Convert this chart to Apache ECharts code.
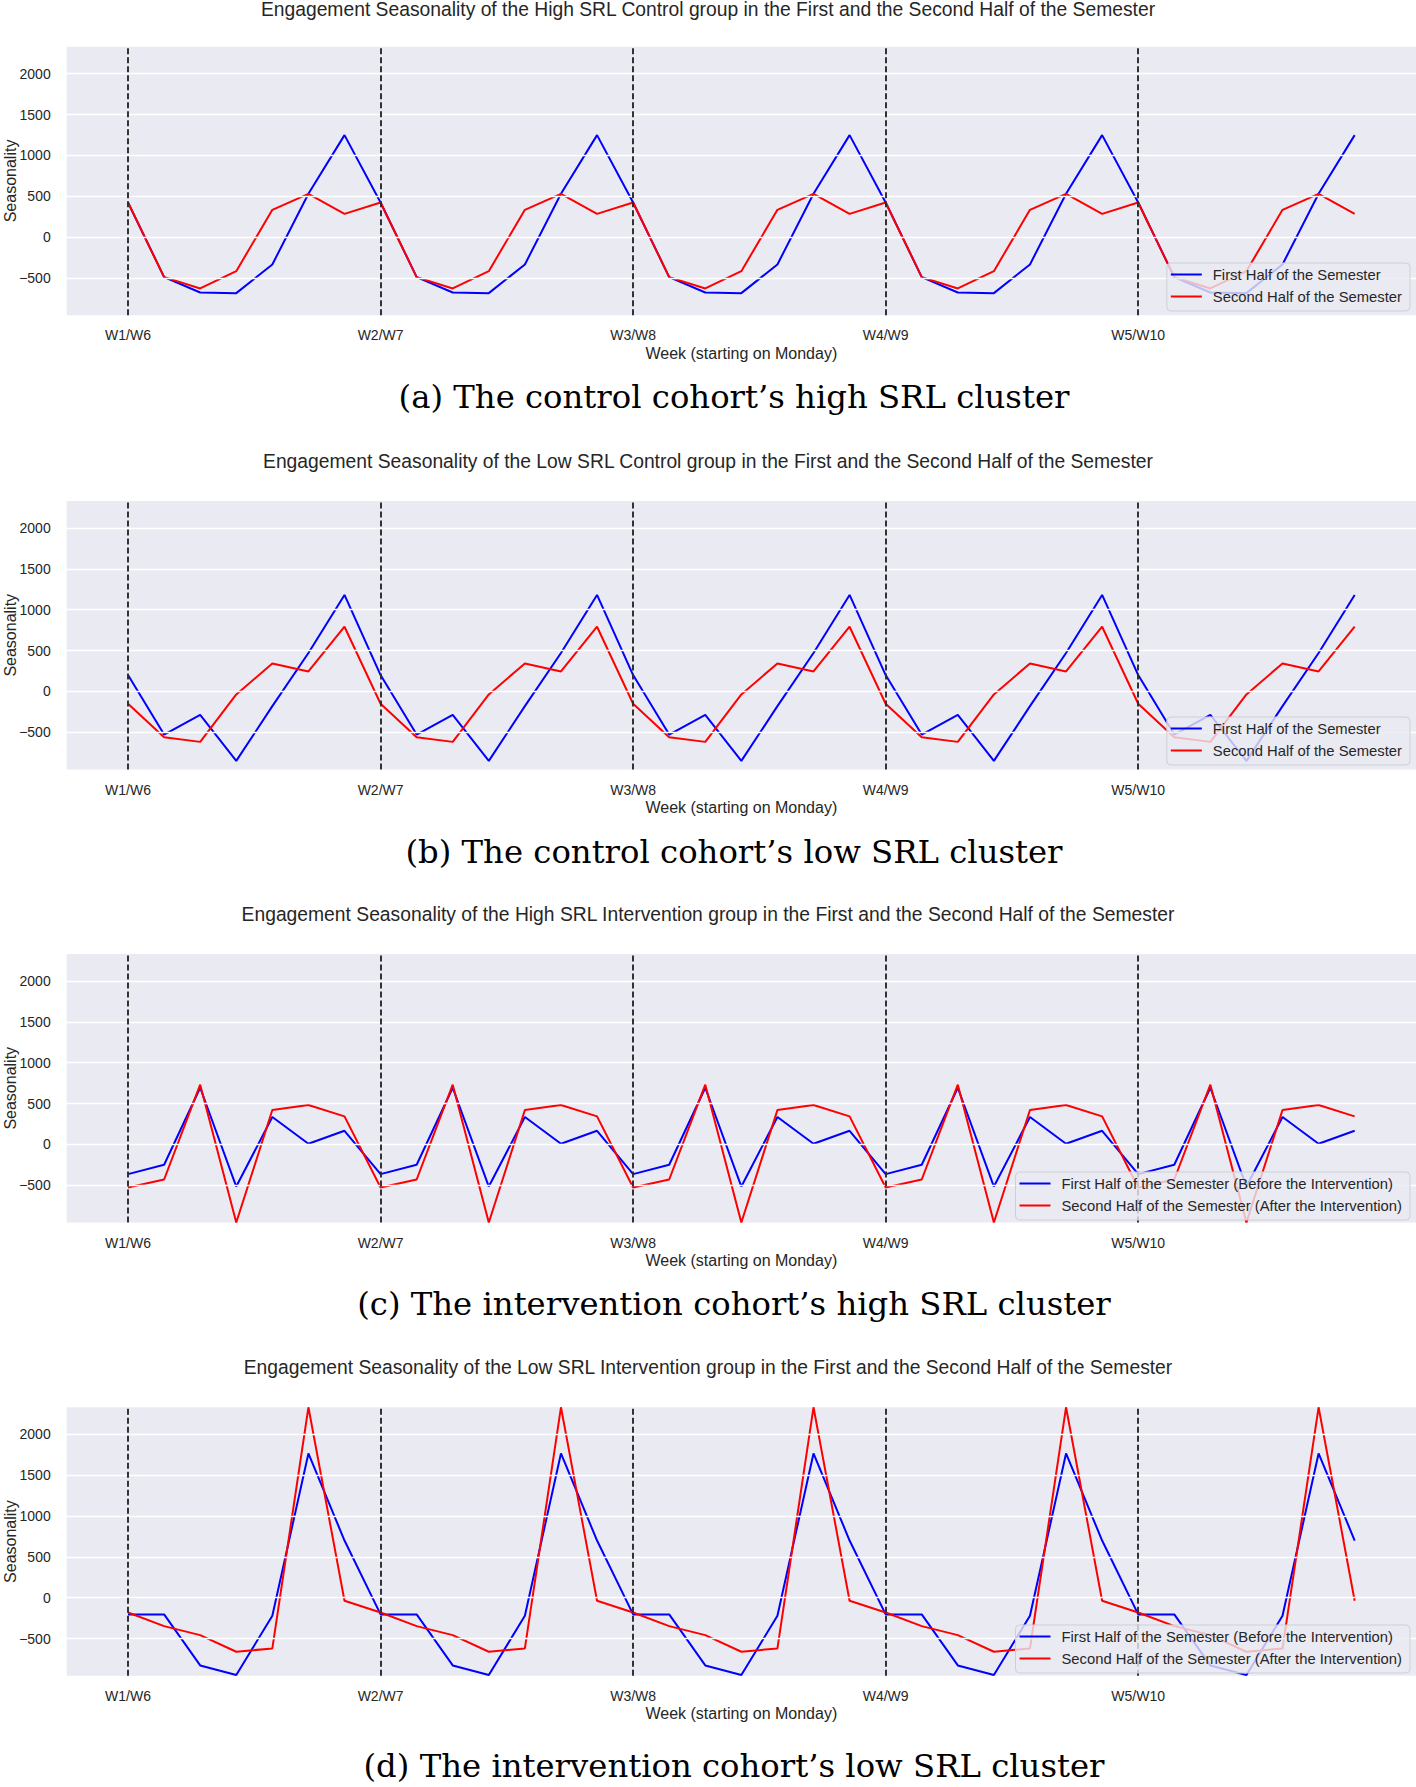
<!DOCTYPE html>
<html><head><meta charset="utf-8">
<script src="https://cdn.jsdelivr.net/npm/echarts@6/dist/echarts.min.js"></script>
<style>html,body{margin:0;padding:0;background:#fff}#c{width:1416px;height:1787px}</style>
</head><body><div id="c"></div>
<script>
// ---- data ----
const days = [0,1,2,3,4,5,6,7,8,9,10,11,12,13,14,15,16,17,18,19,20,21,22,23,24,25,26,27,28,29,30,31,32,33,34];
const weekStartDays = [0,7,14,21,28];
const weekLabels = ['W1/W6','W2/W7','W3/W8','W4/W9','W5/W10'];
const yTicks = [-500,0,500,1000,1500,2000];
const yMin = -955, yMax = 2330;

const panelTitles = [
  'Engagement Seasonality of the High SRL Control group in the First and the Second Half of the Semester',
  'Engagement Seasonality of the Low SRL Control group in the First and the Second Half of the Semester',
  'Engagement Seasonality of the High SRL Intervention group in the First and the Second Half of the Semester',
  'Engagement Seasonality of the Low SRL Intervention group in the First and the Second Half of the Semester'
];
const captions = [
  '(a) The control cohort\u2019s high SRL cluster',
  '(b) The control cohort\u2019s low SRL cluster',
  '(c) The intervention cohort\u2019s high SRL cluster',
  '(d) The intervention cohort\u2019s low SRL cluster'
];
const controlNames = ['First Half of the Semester','Second Half of the Semester'];
const interventionNames = ['First Half of the Semester (Before the Intervention)','Second Half of the Semester (After the Intervention)'];
const xAxisName = 'Week (starting on Monday)';
const yAxisName = 'Seasonality';

const highControlFirst = [424,-489,-677,-685,-334,530,1248, 424,-489,-677,-685,-334,530,1248, 424,-489,-677,-685,-334,530,1248, 424,-489,-677,-685,-334,530,1248, 424,-489,-677,-685,-334,530,1248];
const highControlSecond = [424,-489,-628,-416,334,530,285, 424,-489,-628,-416,334,530,285, 424,-489,-628,-416,334,530,285, 424,-489,-628,-416,334,530,285, 424,-489,-628,-416,334,530,285];
const lowControlFirst = [200,-527,-286,-850,-180,470,1181, 200,-527,-286,-850,-180,470,1181, 200,-527,-286,-850,-180,470,1181, 200,-527,-286,-850,-180,470,1181, 200,-527,-286,-850,-180,470,1181];
const lowControlSecond = [-151,-560,-617,-37,343,245,792, -151,-560,-617,-37,343,245,792, -151,-560,-617,-37,343,245,792, -151,-560,-617,-37,343,245,792, -151,-560,-617,-37,343,245,792];
const highInterFirst = [-363,-249,694,-515,335,8,167, -363,-249,694,-515,335,8,167, -363,-249,694,-515,335,8,167, -363,-249,694,-515,335,8,167, -363,-249,694,-515,335,8,167];
const highInterSecond = [-527,-429,731,-955,421,482,343, -527,-429,731,-955,421,482,343, -527,-429,731,-955,421,482,343, -527,-429,731,-955,421,482,343, -527,-429,731,-955,421,482,343];
const lowInterFirst = [-204,-204,-828,-946,-220,1765,700, -204,-204,-828,-946,-220,1765,700, -204,-204,-828,-946,-220,1765,700, -204,-204,-828,-946,-220,1765,700, -204,-204,-828,-946,-220,1765,700];
const lowInterSecond = [-180,-347,-457,-661,-620,2330,-37, -180,-347,-457,-661,-620,2330,-37, -180,-347,-457,-661,-620,2330,-37, -180,-347,-457,-661,-620,2330,-37, -180,-347,-457,-661,-620,2330,-37];

// ---- build ----
const panels = [
  {first: highControlFirst, second: highControlSecond, names: controlNames},
  {first: lowControlFirst, second: lowControlSecond, names: controlNames},
  {first: highInterFirst, second: highInterSecond, names: interventionNames},
  {first: lowInterFirst, second: lowInterSecond, names: interventionNames}
];
const SANS = '"Liberation Sans", Arial, sans-serif';
const SERIF = '"DejaVu Serif", serif';
const TXT = '#262626';
const tops = [46.7, 501, 954, 1407.3];
const H = 268.5;
const titleCenters = [9.5, 461.5, 914, 1367.5];
const captionCenters = [397, 852, 1304, 1766];
const legendTops = [263, 717, 1172, 1625];

const grid = [], xAxis = [], yAxis = [], series = [], title = [], legend = [], graphic = [];
panels.forEach((p, i) => {
  grid.push({left: 66.7, right: 0, top: tops[i], height: H, show: true, backgroundColor: '#EAEAF2', borderWidth: 0});
  xAxis.push({
    gridIndex: i, type: 'value', min: -1.7, max: 35.7,
    axisLine: {show: false}, axisTick: {show: false}, splitLine: {show: false},
    axisLabel: {customValues: weekStartDays, formatter: v => weekLabels[weekStartDays.indexOf(v)] || '',
      margin: 13, fontSize: 14, color: TXT, fontFamily: SANS},
    name: xAxisName, nameLocation: 'middle', nameGap: 30,
    nameTextStyle: {fontSize: 16, color: TXT, fontFamily: SANS}
  });
  yAxis.push({
    gridIndex: i, type: 'value', min: yMin, max: yMax,
    axisLine: {show: false}, axisTick: {show: false}, splitLine: {show: false},
    axisLabel: {customValues: yTicks, formatter: v => v < 0 ? '\u2212' + Math.abs(v) : String(v),
      margin: 16, fontSize: 14, color: TXT, fontFamily: SANS}
  });
  series.push({
    type: 'line', xAxisIndex: i, yAxisIndex: i, data: [], z: 1, silent: true,
    markLine: {silent: true, symbol: ['none','none'], label: {show: false}, animation: false,
      lineStyle: {color: '#ffffff', width: 1.3, type: 'solid'},
      emphasis: {disabled: true},
      data: yTicks.map(v => ({yAxis: v}))}
  });
  series.push({
    name: p.names[0], type: 'line', xAxisIndex: i, yAxisIndex: i, z: 3,
    data: p.first.map((v, k) => [days[k], v]), symbol: 'none',
    lineStyle: {color: '#0000ff', width: 2}, itemStyle: {color: '#0000ff'}
  });
  series.push({
    name: p.names[1], type: 'line', xAxisIndex: i, yAxisIndex: i, z: 3,
    data: p.second.map((v, k) => [days[k], v]), symbol: 'none',
    lineStyle: {color: '#ff0000', width: 2}, itemStyle: {color: '#ff0000'}
  });
  series.push({
    type: 'line', xAxisIndex: i, yAxisIndex: i, data: [], z: 4, silent: true,
    markLine: {silent: true, symbol: ['none','none'], label: {show: false}, animation: false,
      lineStyle: {color: '#2a2a2a', width: 1.9, type: [6, 3]},
      emphasis: {disabled: true},
      data: weekStartDays.map(v => ({xAxis: v}))}
  });
  title.push({
    text: panelTitles[i], left: 708, top: titleCenters[i] - 9.5, textAlign: 'center', padding: 0,
    textStyle: {fontSize: 19.3, fontWeight: 'normal', color: TXT, fontFamily: SANS, lineHeight: 19}
  });
  title.push({
    text: captions[i], left: 734, top: captionCenters[i] - 16, textAlign: 'center', padding: 0,
    textStyle: {fontSize: 32.3, fontWeight: 'normal', color: '#000', fontFamily: SERIF, lineHeight: 32}
  });
  legend.push({
    orient: 'vertical', right: 6, top: legendTops[i], data: p.names,
    icon: 'rect', itemWidth: 31, itemHeight: 2, itemGap: 7, padding: [4, 8, 7, 4],
    backgroundColor: 'rgba(234,234,242,0.8)', borderColor: '#cfcfd6', borderWidth: 1, borderRadius: 4,
    selectedMode: false, z: 10,
    textStyle: {fontSize: 14.8, color: TXT, fontFamily: SANS, lineHeight: 14, padding: [0, 0, 0, 6]}
  });
  graphic.push({
    type: 'text', x: 10, y: tops[i] + H / 2, rotation: Math.PI / 2, silent: true,
    style: {text: yAxisName, fill: TXT, font: '16px "Liberation Sans", Arial, sans-serif',
      align: 'center', verticalAlign: 'middle', textAlign: 'center', textVerticalAlign: 'middle'}
  });
});

const chart = echarts.init(document.getElementById('c'), null, {renderer: 'svg'});
chart.setOption({animation: false, backgroundColor: '#ffffff', grid, xAxis, yAxis, series, title, legend, graphic});
</script></body></html>
